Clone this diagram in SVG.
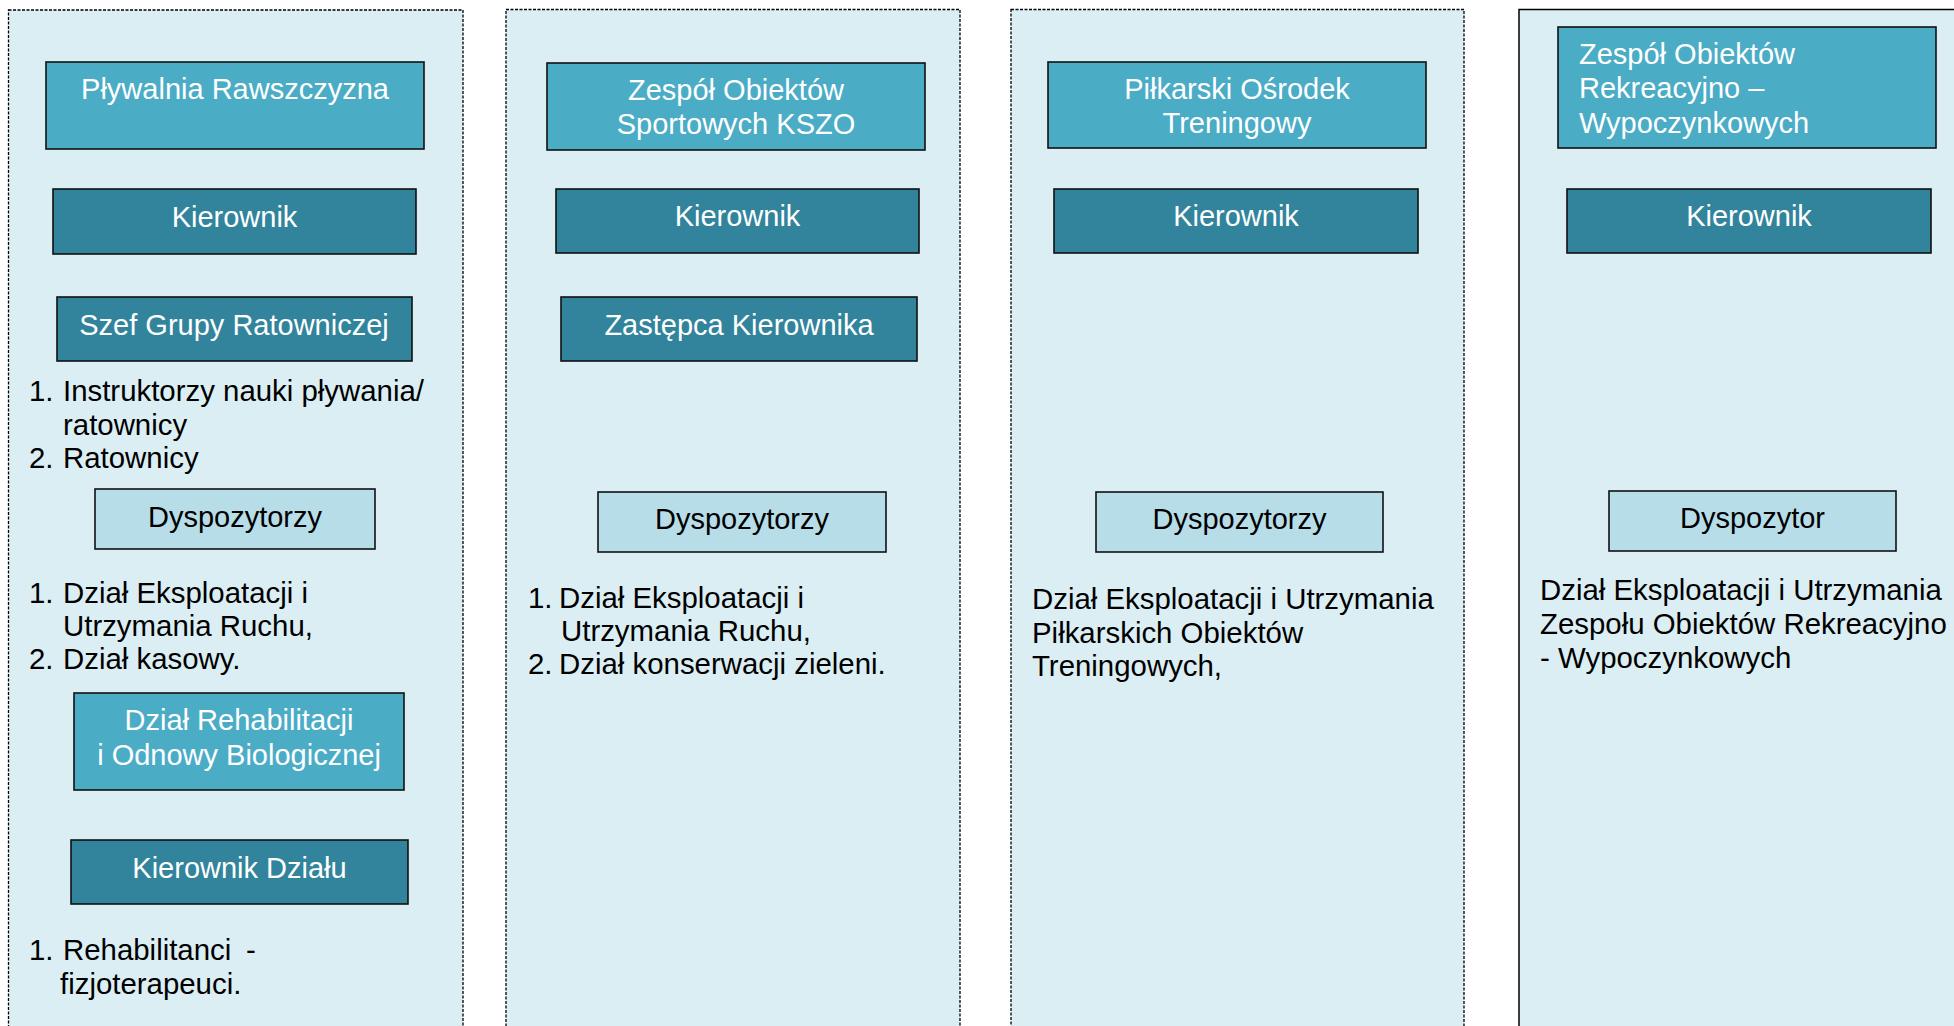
<svg xmlns="http://www.w3.org/2000/svg" width="1954" height="1026" viewBox="0 0 1954 1026">
<style>
text{font-family:"Liberation Sans",Arial,sans-serif;font-size:29px}
.panel{fill:#DBEEF3;stroke:#000;stroke-width:1.3;stroke-dasharray:3 1.5}
.solid{stroke-dasharray:none;stroke-width:1.5}
.mid{fill:#4BACC6;stroke:#111;stroke-width:1.6}
.dark{fill:#31849B;stroke:#111;stroke-width:1.6}
.light{fill:#B7DDE8;stroke:#111;stroke-width:1.6}
.w{fill:#fff;text-anchor:middle}
.wl{fill:#fff}
.b{fill:#000;font-size:29.4px}
.bc{fill:#000;text-anchor:middle}
</style>
<rect width="1954" height="1026" fill="#fff"/>
<g id="panels">
<rect class="panel" x="8.5" y="10" width="454.5" height="1040"/>
<rect class="panel" x="506" y="9.5" width="454" height="1040"/>
<rect class="panel" x="1011" y="9.5" width="453" height="1040"/>
<rect class="panel solid" x="1519" y="9.5" width="460" height="1040"/>
</g>
<g id="connectors"></g>
<!-- Panel 1 -->
<g id="n-plywalnia"><rect class="mid" x="46" y="62" width="378" height="87"/><text class="w" x="235" y="99">Pływalnia Rawszczyzna</text></g>
<g id="n-kier1"><rect class="dark" x="53" y="189" width="363" height="65"/><text class="w" x="234.5" y="227">Kierownik</text></g>
<g id="n-szef"><rect class="dark" x="57" y="297" width="355" height="64"/><text class="w" x="234" y="335">Szef Grupy Ratowniczej</text></g>
<g id="t-list1"><text class="b" x="29" y="401">1.</text><text class="b" x="63" y="401">Instruktorzy nauki pływania/</text><text class="b" x="63" y="435">ratownicy</text><text class="b" x="29" y="468">2.</text><text class="b" x="63" y="468">Ratownicy</text></g>
<g id="n-dysp1"><rect class="light" x="95" y="489" width="280" height="60"/><text class="bc" x="235" y="527">Dyspozytorzy</text></g>
<g id="t-list2"><text class="b" x="29" y="603">1.</text><text class="b" x="63" y="603">Dział Eksploatacji i</text><text class="b" x="63" y="636">Utrzymania Ruchu,</text><text class="b" x="29" y="669">2.</text><text class="b" x="63" y="669">Dział kasowy.</text></g>
<g id="n-rehab"><rect class="mid" x="74" y="693" width="330" height="97"/><text class="w" x="239" y="730">Dział Rehabilitacji</text><text class="w" x="239" y="765">i Odnowy Biologicznej</text></g>
<g id="n-kierdz"><rect class="dark" x="71" y="840" width="337" height="64"/><text class="w" x="239.5" y="878">Kierownik Działu</text></g>
<g id="t-list3"><text class="b" x="29" y="960">1.</text><text class="b" x="63" y="960">Rehabilitanci</text><text class="b" x="246" y="960">-</text><text class="b" x="60" y="994">fizjoterapeuci.</text></g>
<!-- Panel 2 -->
<g id="n-kszo"><rect class="mid" x="547" y="63" width="378" height="87"/><text class="w" x="736" y="100">Zespół Obiektów</text><text class="w" x="736" y="134">Sportowych KSZO</text></g>
<g id="n-kier2"><rect class="dark" x="556" y="189" width="363" height="64"/><text class="w" x="737.5" y="226">Kierownik</text></g>
<g id="n-zast"><rect class="dark" x="561" y="297" width="356" height="64"/><text class="w" x="739" y="335">Zastępca Kierownika</text></g>
<g id="n-dysp2"><rect class="light" x="598" y="492" width="288" height="60"/><text class="bc" x="742" y="529">Dyspozytorzy</text></g>
<g id="t-list4"><text class="b" x="528" y="608">1.</text><text class="b" x="559" y="608">Dział Eksploatacji i</text><text class="b" x="561" y="641">Utrzymania Ruchu,</text><text class="b" x="528" y="674">2.</text><text class="b" x="559" y="674">Dział konserwacji zieleni.</text></g>
<!-- Panel 3 -->
<g id="n-pilk"><rect class="mid" x="1048" y="62" width="378" height="86"/><text class="w" x="1237" y="99">Piłkarski Ośrodek</text><text class="w" x="1237" y="133">Treningowy</text></g>
<g id="n-kier3"><rect class="dark" x="1054" y="189" width="364" height="64"/><text class="w" x="1236" y="226">Kierownik</text></g>
<g id="n-dysp3"><rect class="light" x="1096" y="492" width="287" height="60"/><text class="bc" x="1239.5" y="529">Dyspozytorzy</text></g>
<g id="t-list5"><text class="b" x="1032" y="609">Dział Eksploatacji i Utrzymania</text><text class="b" x="1032" y="643">Piłkarskich Obiektów</text><text class="b" x="1032" y="676">Treningowych,</text></g>
<!-- Panel 4 -->
<g id="n-rekr"><rect class="mid" x="1558" y="27" width="378" height="121"/><text class="wl" x="1579" y="64">Zespół Obiektów</text><text class="wl" x="1579" y="98">Rekreacyjno –</text><text class="wl" x="1579" y="133">Wypoczynkowych</text></g>
<g id="n-kier4"><rect class="dark" x="1567" y="189" width="364" height="64"/><text class="w" x="1749" y="226">Kierownik</text></g>
<g id="n-dysp4"><rect class="light" x="1609" y="491" width="287" height="60"/><text class="bc" x="1752.5" y="528">Dyspozytor</text></g>
<g id="t-list6"><text class="b" x="1540" y="600">Dział Eksploatacji i Utrzymania</text><text class="b" x="1540" y="634">Zespołu Obiektów Rekreacyjno</text><text class="b" x="1540" y="668">- Wypoczynkowych</text></g>
</svg>
